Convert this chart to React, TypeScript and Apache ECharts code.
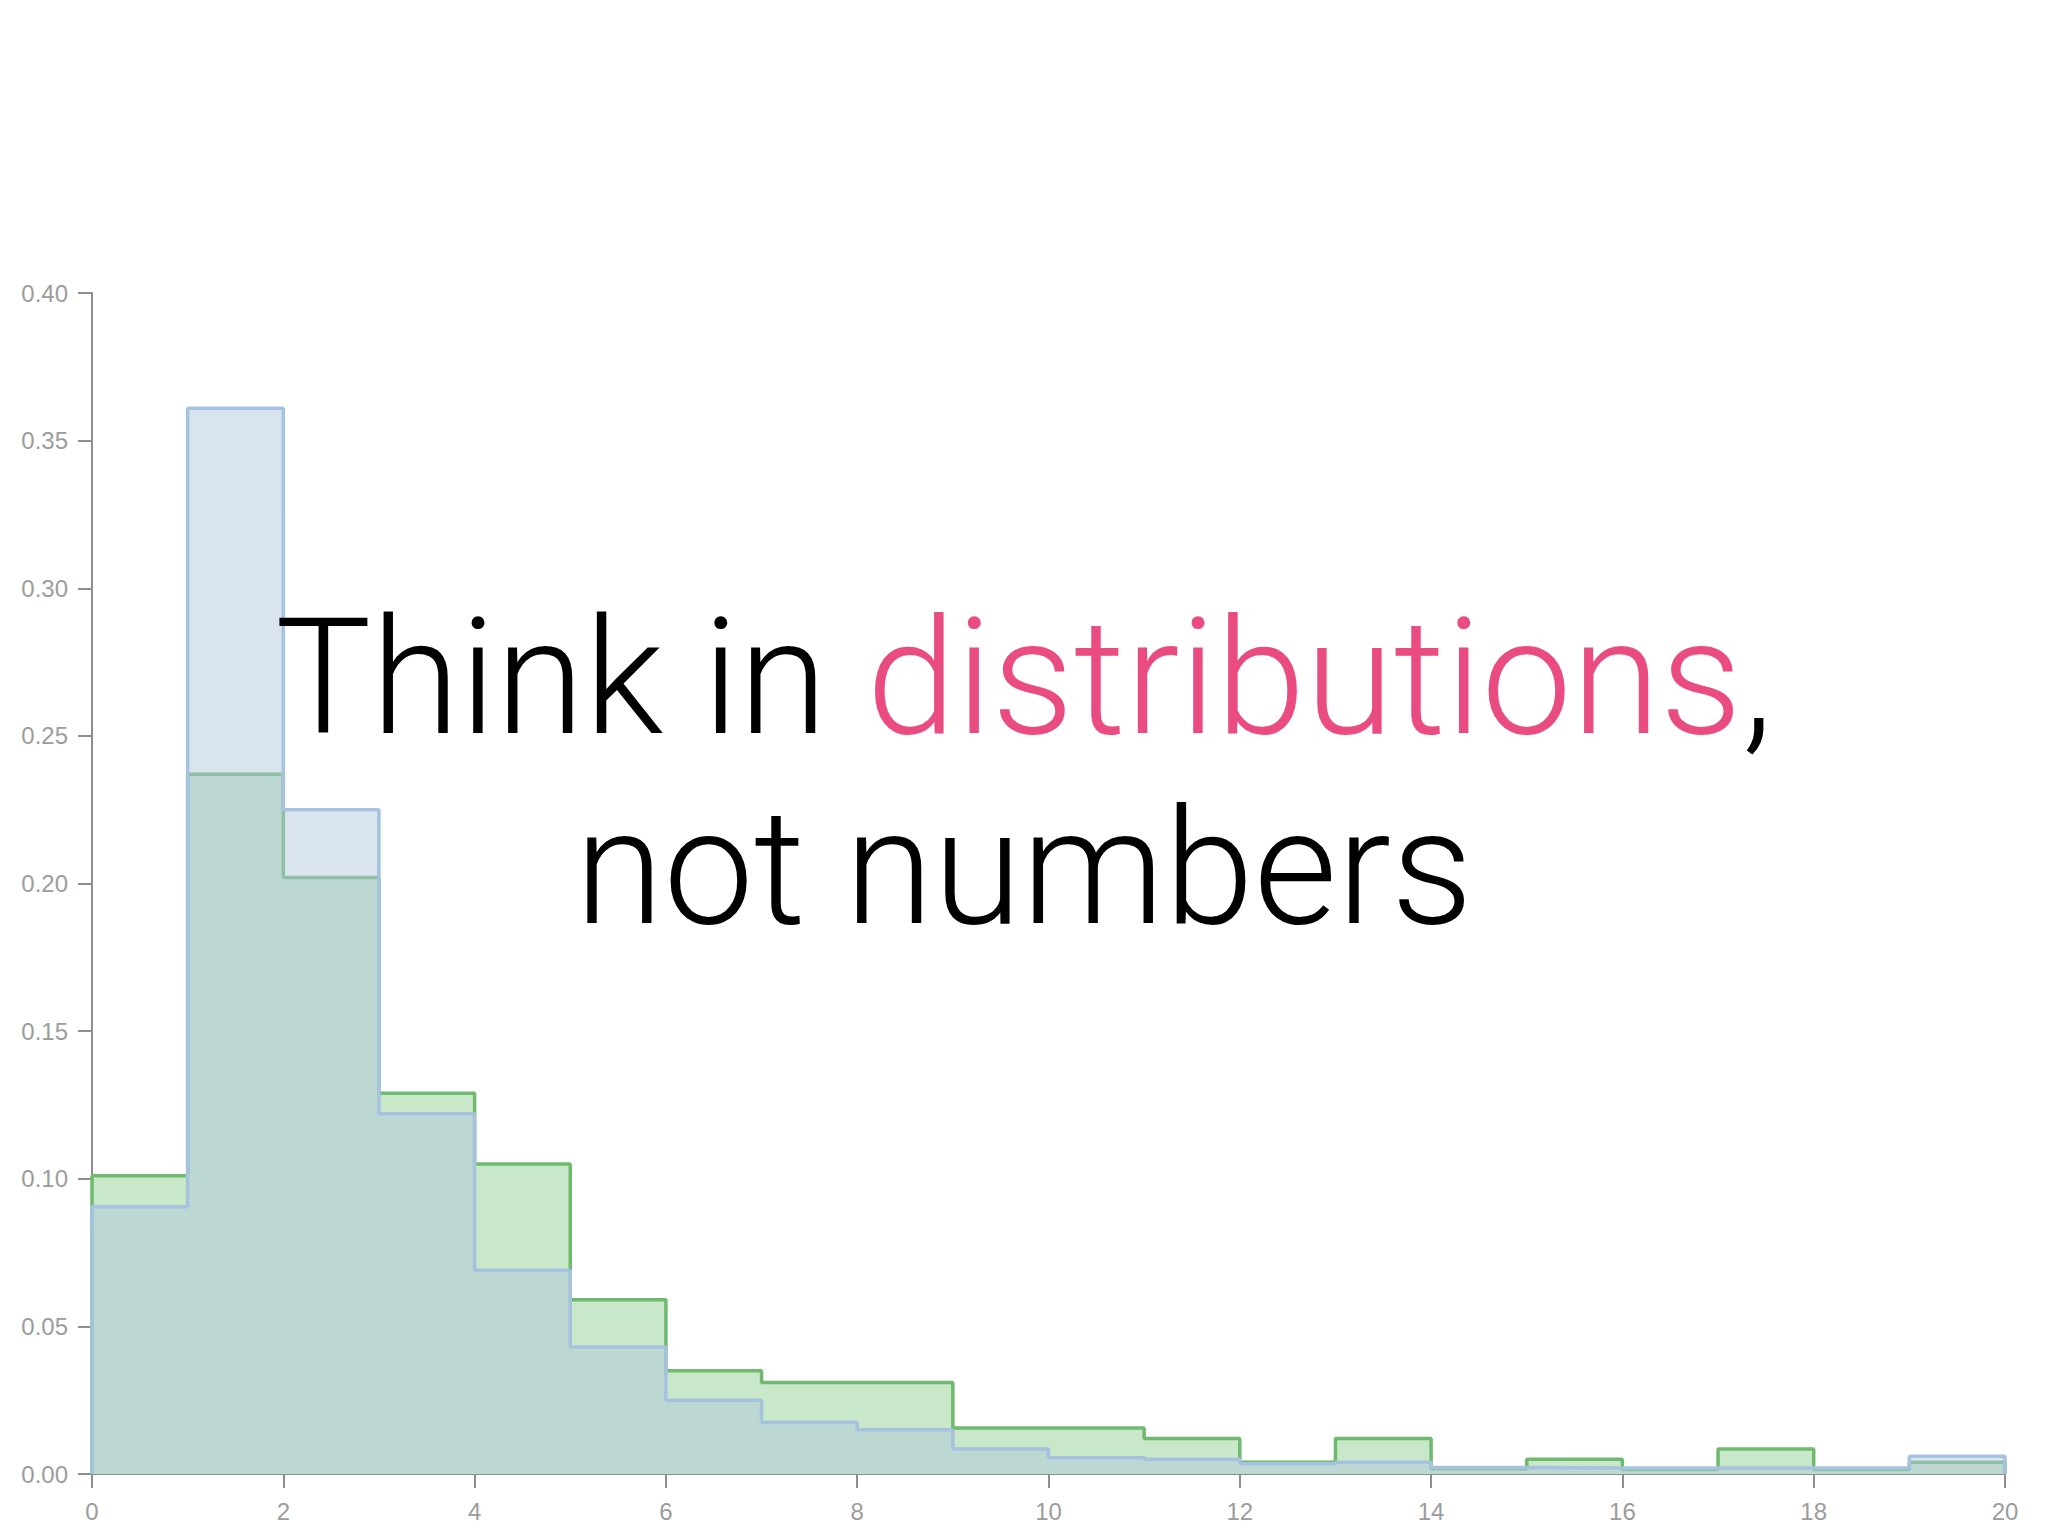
import React, { useEffect, useRef } from "react";
import * as echarts from "echarts";

// Histogram bins: [i, i+1) for i = 0..19
const binStarts = [0, 1, 2, 3, 4, 5, 6, 7, 8, 9, 10, 11, 12, 13, 14, 15, 16, 17, 18, 19];
const greenValues = [0.101, 0.237, 0.202, 0.129, 0.105, 0.059, 0.035, 0.031, 0.031, 0.0156, 0.0156, 0.012, 0.004, 0.012, 0.0018, 0.005, 0.0015, 0.0085, 0.0015, 0.004];
const blueValues = [0.0905, 0.361, 0.225, 0.122, 0.069, 0.043, 0.025, 0.0175, 0.015, 0.0085, 0.0055, 0.005, 0.0035, 0.004, 0.0022, 0.002, 0.002, 0.002, 0.002, 0.006];
const binWidth = 1;

const titleLine1Black = "Think in ";
const titleLine1Pink = "distributions";
const titleLine1End = ",";
const titleLine2 = "not numbers";

function stepData(values: number[]) {
  const pts: [number, number][] = [[binStarts[0], 0]];
  values.forEach((v, i) => pts.push([binStarts[i], v]));
  const last = binStarts[binStarts.length - 1] + binWidth;
  pts.push([last, values[values.length - 1]]);
  pts.push([last, 0]);
  return pts;
}

export default function App() {
  const ref = useRef<HTMLDivElement>(null);
  useEffect(() => {
    if (!ref.current) return;
    const chart = echarts.init(ref.current, null, { renderer: "svg" });
    const axisColor = "#8e8e8e";
    const labelStyle = {
      color: "#9c9c9c",
      fontSize: 24,
      fontFamily: "'Liberation Sans', Arial, sans-serif",
    };
    chart.setOption({
      animation: false,
      backgroundColor: "#ffffff",
      grid: { left: 92, right: 43, top: 293, bottom: 62, containLabel: false },
      xAxis: {
        type: "value",
        min: 0,
        max: 20,
        interval: 2,
        axisLine: { show: true, onZero: false, lineStyle: { color: axisColor, width: 2 } },
        axisTick: { show: true, length: 14, lineStyle: { color: axisColor, width: 2 } },
        axisLabel: { ...labelStyle, margin: 25 },
        splitLine: { show: false },
      },
      yAxis: {
        type: "value",
        min: 0,
        max: 0.4,
        interval: 0.05,
        axisLine: { show: true, lineStyle: { color: axisColor, width: 2 } },
        axisTick: { show: true, length: 14, lineStyle: { color: axisColor, width: 2 } },
        axisLabel: { ...labelStyle, margin: 24, formatter: (v: number) => v.toFixed(2) },
        splitLine: { show: false },
      },
      series: [
        {
          type: "line",
          name: "green",
          step: "end",
          symbol: "none",
          data: stepData(greenValues),
          lineStyle: { color: "#6fba6f", width: 3.5 },
          areaStyle: { color: "#c9e7c9", opacity: 1 },
          z: 2,
        },
        {
          type: "line",
          name: "blue",
          step: "end",
          symbol: "none",
          data: stepData(blueValues),
          lineStyle: { color: "#a5c2df", width: 3.5 },
          areaStyle: { color: "rgba(176,198,222,0.48)", opacity: 1 },
          z: 3,
        },
      ],
      graphic: [
        {
          type: "text",
          x: 1024,
          y: 678,
          z: 100,
          style: {
            text: `{k|${titleLine1Black}}{p|${titleLine1Pink}}{k|${titleLine1End}}`,
            textAlign: "center",
            textVerticalAlign: "middle",
            rich: {
              k: { fill: "#000000", fontSize: 161, fontWeight: 300, fontFamily: "Roboto, 'Open Sans', sans-serif" },
              p: { fill: "#ea4c82", fontSize: 161, fontWeight: 300, fontFamily: "Roboto, 'Open Sans', sans-serif" },
            },
          },
        },
        {
          type: "text",
          x: 1024,
          y: 868,
          z: 100,
          style: {
            text: titleLine2,
            fill: "#000000",
            fontSize: 161,
            fontWeight: 300,
            fontFamily: "Roboto, 'Open Sans', sans-serif",
            textAlign: "center",
            textVerticalAlign: "middle",
          },
        },
      ],
    });
    return () => chart.dispose();
  }, []);
  return (
    <div
      ref={ref}
      style={{ position: "absolute", left: 0, top: 0, width: 2048, height: 1536 }}
    />
  );
}
